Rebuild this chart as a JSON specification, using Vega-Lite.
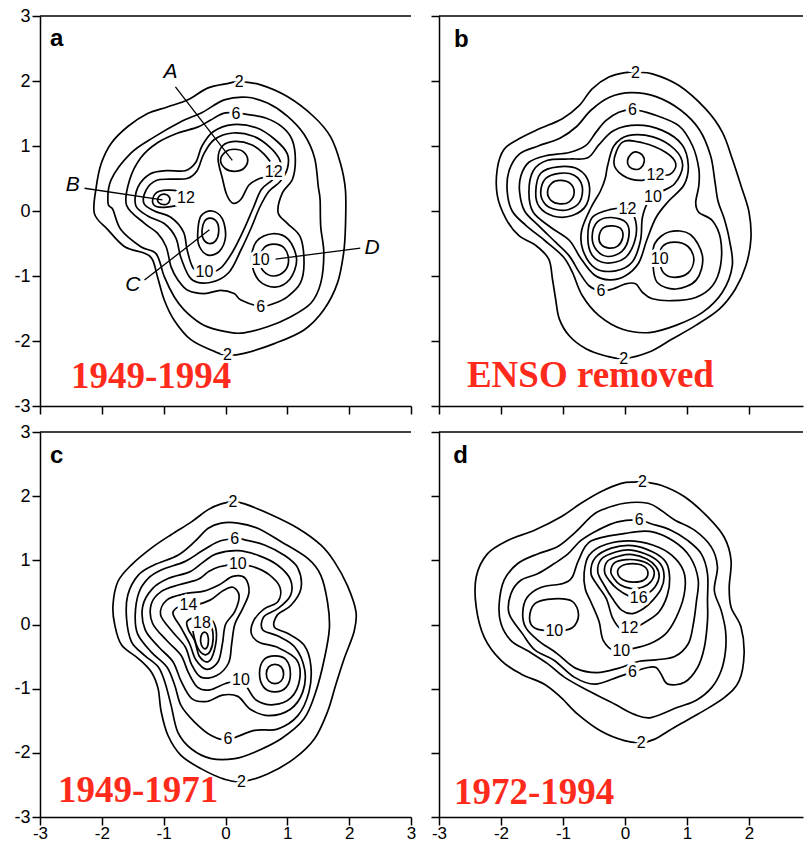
{
"$schema": "https://vega.github.io/schema/vega-lite/v6.json",
"background": "white",
"padding": {"left": 13, "top": 7, "right": 0, "bottom": 0},
"columns": 2,
"bounds": "flush",
"spacing": {"row": 26, "column": 28},
"config": {
  "view": {"stroke": null},
  "axis": {"domainColor": "black", "domainWidth": 1.5, "tickColor": "black", "tickWidth": 1.5, "tickSize": 8, "labelFont": "Liberation Sans", "labelFontSize": 18, "labelColor": "black", "labelPadding": 2, "labelFlush": false, "labelOverlap": false, "grid": false},
  "axisX": {"labelPadding": 0, "labelFontSize": 17},
  "line": {"color": "black", "strokeWidth": 1.7, "interpolate": "cardinal-closed"},
  "text": {"font": "Liberation Sans", "fontSize": 16, "color": "black"}
},
"datasets": {
"a_lines": [
{"contour":"2","x":1.94,"y":0.32},{"contour":"2","x":1.86,"y":0.73},{"contour":"2","x":1.70,"y":1.14},{"contour":"2","x":1.43,"y":1.45},{"contour":"2","x":1.0,"y":1.76},{"contour":"2","x":0.57,"y":1.94},{"contour":"2","x":0.22,"y":1.99},{"contour":"2","x":0.03,"y":1.96},{"contour":"2","x":-0.29,"y":1.89},{"contour":"2","x":-0.61,"y":1.71},{"contour":"2","x":-0.94,"y":1.60},{"contour":"2","x":-1.26,"y":1.50},{"contour":"2","x":-1.58,"y":1.30},{"contour":"2","x":-1.85,"y":1.04},{"contour":"2","x":-2.01,"y":0.73},{"contour":"2","x":-2.09,"y":0.37},{"contour":"2","x":-2.12,"y":-0.04},{"contour":"2","x":-1.90,"y":-0.29},{"contour":"2","x":-1.63,"y":-0.55},{"contour":"2","x":-1.31,"y":-0.65},{"contour":"2","x":-1.18,"y":-0.75},{"contour":"2","x":-1.10,"y":-1.01},{"contour":"2","x":-0.99,"y":-1.37},{"contour":"2","x":-0.83,"y":-1.68},{"contour":"2","x":-0.56,"y":-1.98},{"contour":"2","x":-0.18,"y":-2.16},{"contour":"2","x":0.03,"y":-2.22},{"contour":"2","x":0.30,"y":-2.19},{"contour":"2","x":0.79,"y":-2.04},{"contour":"2","x":1.27,"y":-1.83},{"contour":"2","x":1.59,"y":-1.52},{"contour":"2","x":1.81,"y":-1.11},{"contour":"2","x":1.91,"y":-0.65},{"contour":"2","x":1.94,"y":-0.24},
{"contour":"4","x":-1.82,"y":0.02},{"contour":"4","x":-1.69,"y":-0.29},{"contour":"4","x":-1.37,"y":-0.55},{"contour":"4","x":-1.12,"y":-0.66},{"contour":"4","x":-0.99,"y":-1.01},{"contour":"4","x":-0.83,"y":-1.32},{"contour":"4","x":-0.67,"y":-1.52},{"contour":"4","x":-0.40,"y":-1.73},{"contour":"4","x":-0.13,"y":-1.83},{"contour":"4","x":0.25,"y":-1.88},{"contour":"4","x":0.68,"y":-1.78},{"contour":"4","x":1.05,"y":-1.63},{"contour":"4","x":1.38,"y":-1.42},{"contour":"4","x":1.54,"y":-1.11},{"contour":"4","x":1.59,"y":-0.65},{"contour":"4","x":1.54,"y":-0.24},{"contour":"4","x":1.53,"y":0.17},{"contour":"4","x":1.50,"y":0.38},{"contour":"4","x":1.44,"y":0.82},{"contour":"4","x":1.27,"y":1.18},{"contour":"4","x":1.0,"y":1.46},{"contour":"4","x":0.68,"y":1.66},{"contour":"4","x":0.35,"y":1.75},{"contour":"4","x":-0.02,"y":1.71},{"contour":"4","x":-0.37,"y":1.52},{"contour":"4","x":-0.73,"y":1.37},{"contour":"4","x":-1.15,"y":1.14},{"contour":"4","x":-1.53,"y":0.89},{"contour":"4","x":-1.85,"y":0.48},{"contour":"4","x":-1.90,"y":0.12},
{"contour":"6","x":-1.60,"y":0.09},{"contour":"6","x":-1.31,"y":-0.19},{"contour":"6","x":-1.10,"y":-0.34},{"contour":"6","x":-0.96,"y":-0.55},{"contour":"6","x":-0.88,"y":-0.86},{"contour":"6","x":-0.77,"y":-1.06},{"contour":"6","x":-0.61,"y":-1.22},{"contour":"6","x":-0.34,"y":-1.27},{"contour":"6","x":-0.08,"y":-1.22},{"contour":"6","x":0.14,"y":-1.27},{"contour":"6","x":0.25,"y":-1.37},{"contour":"6","x":0.57,"y":-1.47},{"contour":"6","x":0.79,"y":-1.42},{"contour":"6","x":1.0,"y":-1.32},{"contour":"6","x":1.21,"y":-1.11},{"contour":"6","x":1.27,"y":-0.80},{"contour":"6","x":1.21,"y":-0.40},{"contour":"6","x":1.0,"y":-0.19},{"contour":"6","x":0.85,"y":-0.02},{"contour":"6","x":0.92,"y":0.28},{"contour":"6","x":1.08,"y":0.48},{"contour":"6","x":1.13,"y":0.78},{"contour":"6","x":1.08,"y":1.09},{"contour":"6","x":0.92,"y":1.29},{"contour":"6","x":0.65,"y":1.43},{"contour":"6","x":0.32,"y":1.49},{"contour":"6","x":0.0,"y":1.51},{"contour":"6","x":-0.24,"y":1.40},{"contour":"6","x":-0.45,"y":1.29},{"contour":"6","x":-0.77,"y":1.20},{"contour":"6","x":-1.10,"y":1.05},{"contour":"6","x":-1.37,"y":0.82},{"contour":"6","x":-1.55,"y":0.48},
{"contour":"8","x":-1.45,"y":0.08},{"contour":"8","x":-1.42,"y":0.36},{"contour":"8","x":-1.22,"y":0.57},{"contour":"8","x":-0.95,"y":0.62},{"contour":"8","x":-0.65,"y":0.62},{"contour":"8","x":-0.48,"y":0.75},{"contour":"8","x":-0.38,"y":1.0},{"contour":"8","x":-0.20,"y":1.22},{"contour":"8","x":0.12,"y":1.33},{"contour":"8","x":0.50,"y":1.28},{"contour":"8","x":0.80,"y":1.10},{"contour":"8","x":1.0,"y":0.88},{"contour":"8","x":1.0,"y":0.65},{"contour":"8","x":0.88,"y":0.45},{"contour":"8","x":0.70,"y":0.30},{"contour":"8","x":0.55,"y":0.05},{"contour":"8","x":0.42,"y":-0.25},{"contour":"8","x":0.25,"y":-0.60},{"contour":"8","x":0.05,"y":-0.95},{"contour":"8","x":-0.25,"y":-1.10},{"contour":"8","x":-0.55,"y":-1.05},{"contour":"8","x":-0.72,"y":-0.72},{"contour":"8","x":-0.80,"y":-0.42},{"contour":"8","x":-0.98,"y":-0.20},{"contour":"8","x":-1.25,"y":-0.08},
{"contour":"8D","x":0.42,"y":-0.77},{"contour":"8D","x":0.50,"y":-0.47},{"contour":"8D","x":0.76,"y":-0.35},{"contour":"8D","x":1.02,"y":-0.44},{"contour":"8D","x":1.15,"y":-0.75},{"contour":"8D","x":1.04,"y":-1.05},{"contour":"8D","x":0.80,"y":-1.17},{"contour":"8D","x":0.54,"y":-1.07},
{"contour":"10","x":-1.32,"y":0.12},{"contour":"10","x":-1.28,"y":0.33},{"contour":"10","x":-1.12,"y":0.47},{"contour":"10","x":-0.90,"y":0.49},{"contour":"10","x":-0.62,"y":0.50},{"contour":"10","x":-0.46,"y":0.62},{"contour":"10","x":-0.35,"y":0.88},{"contour":"10","x":-0.18,"y":1.10},{"contour":"10","x":0.12,"y":1.20},{"contour":"10","x":0.45,"y":1.15},{"contour":"10","x":0.72,"y":0.98},{"contour":"10","x":0.88,"y":0.78},{"contour":"10","x":0.88,"y":0.62},{"contour":"10","x":0.76,"y":0.48},{"contour":"10","x":0.58,"y":0.33},{"contour":"10","x":0.45,"y":0.05},{"contour":"10","x":0.30,"y":-0.28},{"contour":"10","x":0.12,"y":-0.62},{"contour":"10","x":-0.08,"y":-0.88},{"contour":"10","x":-0.32,"y":-0.96},{"contour":"10","x":-0.52,"y":-0.88},{"contour":"10","x":-0.62,"y":-0.60},{"contour":"10","x":-0.68,"y":-0.32},{"contour":"10","x":-0.88,"y":-0.10},{"contour":"10","x":-1.15,"y":0.0},
{"contour":"10D","x":0.55,"y":-0.76},{"contour":"10D","x":0.62,"y":-0.57},{"contour":"10D","x":0.78,"y":-0.51},{"contour":"10D","x":0.95,"y":-0.57},{"contour":"10D","x":1.02,"y":-0.76},{"contour":"10D","x":0.95,"y":-0.93},{"contour":"10D","x":0.78,"y":-1.0},{"contour":"10D","x":0.62,"y":-0.93},
{"contour":"12A","x":-0.12,"y":0.80},{"contour":"12A","x":-0.05,"y":1.0},{"contour":"12A","x":0.15,"y":1.07},{"contour":"12A","x":0.42,"y":1.02},{"contour":"12A","x":0.62,"y":0.88},{"contour":"12A","x":0.78,"y":0.66},{"contour":"12A","x":0.74,"y":0.54},{"contour":"12A","x":0.55,"y":0.50},{"contour":"12A","x":0.38,"y":0.40},{"contour":"12A","x":0.25,"y":0.18},{"contour":"12A","x":0.12,"y":0.12},{"contour":"12A","x":0.02,"y":0.25},{"contour":"12A","x":-0.05,"y":0.50},
{"contour":"12B","x":-1.18,"y":0.15},{"contour":"12B","x":-1.12,"y":0.28},{"contour":"12B","x":-0.95,"y":0.32},{"contour":"12B","x":-0.76,"y":0.30},{"contour":"12B","x":-0.67,"y":0.20},{"contour":"12B","x":-0.76,"y":0.10},{"contour":"12B","x":-0.95,"y":0.06},{"contour":"12B","x":-1.12,"y":0.07},
{"contour":"12C","x":-0.45,"y":-0.35},{"contour":"12C","x":-0.40,"y":-0.08},{"contour":"12C","x":-0.22,"y":0.0},{"contour":"12C","x":-0.05,"y":-0.12},{"contour":"12C","x":0.0,"y":-0.40},{"contour":"12C","x":-0.10,"y":-0.62},{"contour":"12C","x":-0.28,"y":-0.68},{"contour":"12C","x":-0.42,"y":-0.55},
{"contour":"14A","x":-0.08,"y":0.78},{"contour":"14A","x":0.0,"y":0.91},{"contour":"14A","x":0.14,"y":0.95},{"contour":"14A","x":0.29,"y":0.91},{"contour":"14A","x":0.36,"y":0.78},{"contour":"14A","x":0.29,"y":0.65},{"contour":"14A","x":0.14,"y":0.61},{"contour":"14A","x":0.0,"y":0.65},
{"contour":"14B","x":-1.10,"y":0.17},{"contour":"14B","x":-1.06,"y":0.24},{"contour":"14B","x":-0.99,"y":0.26},{"contour":"14B","x":-0.92,"y":0.23},{"contour":"14B","x":-0.90,"y":0.17},{"contour":"14B","x":-0.94,"y":0.11},{"contour":"14B","x":-1.01,"y":0.10},{"contour":"14B","x":-1.07,"y":0.12},
{"contour":"14C","x":-0.38,"y":-0.30},{"contour":"14C","x":-0.34,"y":-0.16},{"contour":"14C","x":-0.25,"y":-0.11},{"contour":"14C","x":-0.14,"y":-0.17},{"contour":"14C","x":-0.11,"y":-0.32},{"contour":"14C","x":-0.16,"y":-0.46},{"contour":"14C","x":-0.27,"y":-0.50},{"contour":"14C","x":-0.36,"y":-0.43}
],
"a_tags": [
{"text":"2","x":0.22,"y":1.99},{"text":"2","x":0.03,"y":-2.22},{"text":"6","x":0.17,"y":1.50},{"text":"6","x":0.57,"y":-1.47},{"text":"12","x":0.78,"y":0.60},{"text":"12","x":-0.64,"y":0.20},{"text":"10","x":-0.34,"y":-0.94},{"text":"10","x":0.57,"y":-0.76}
],
"a_callouts": [
{"name":"A","x":-0.89,"y":2.14,"fromX":-0.81,"fromY":1.91,"toX":0.11,"toY":0.78},
{"name":"B","x":-2.47,"y":0.40,"fromX":-2.28,"fromY":0.35,"toX":-1.02,"toY":0.17},
{"name":"C","x":-1.50,"y":-1.14,"fromX":-1.31,"fromY":-1.06,"toX":-0.26,"toY":-0.29},
{"name":"D","x":2.37,"y":-0.57,"fromX":2.18,"fromY":-0.57,"toX":0.81,"toY":-0.74}
],
"b_lines": [
{"contour":"2","x":0.17,"y":2.13},{"contour":"2","x":0.44,"y":2.11},{"contour":"2","x":0.87,"y":1.93},{"contour":"2","x":1.30,"y":1.57},{"contour":"2","x":1.57,"y":1.21},{"contour":"2","x":1.73,"y":0.80},{"contour":"2","x":1.87,"y":0.39},{"contour":"2","x":2.0,"y":-0.02},{"contour":"2","x":2.03,"y":-0.43},{"contour":"2","x":1.95,"y":-0.84},{"contour":"2","x":1.78,"y":-1.20},{"contour":"2","x":1.52,"y":-1.51},{"contour":"2","x":1.14,"y":-1.76},{"contour":"2","x":0.76,"y":-1.97},{"contour":"2","x":0.39,"y":-2.17},{"contour":"2","x":-0.02,"y":-2.27},{"contour":"2","x":-0.31,"y":-2.23},{"contour":"2","x":-0.63,"y":-2.12},{"contour":"2","x":-0.90,"y":-1.92},{"contour":"2","x":-1.06,"y":-1.66},{"contour":"2","x":-1.12,"y":-1.35},{"contour":"2","x":-1.17,"y":-1.05},{"contour":"2","x":-1.23,"y":-0.74},{"contour":"2","x":-1.44,"y":-0.53},{"contour":"2","x":-1.71,"y":-0.38},{"contour":"2","x":-1.92,"y":-0.12},{"contour":"2","x":-2.06,"y":0.24},{"contour":"2","x":-2.06,"y":0.65},{"contour":"2","x":-1.95,"y":0.95},{"contour":"2","x":-1.71,"y":1.11},{"contour":"2","x":-1.39,"y":1.26},{"contour":"2","x":-1.01,"y":1.42},{"contour":"2","x":-0.74,"y":1.62},{"contour":"2","x":-0.53,"y":1.88},{"contour":"2","x":-0.26,"y":2.06},{"contour":"2","x":0.01,"y":2.13},
{"contour":"4","x":0.10,"y":1.82},{"contour":"4","x":0.50,"y":1.76},{"contour":"4","x":0.90,"y":1.55},{"contour":"4","x":1.20,"y":1.25},{"contour":"4","x":1.38,"y":0.85},{"contour":"4","x":1.45,"y":0.45},{"contour":"4","x":1.50,"y":0.15},{"contour":"4","x":1.60,"y":-0.12},{"contour":"4","x":1.68,"y":-0.43},{"contour":"4","x":1.73,"y":-0.84},{"contour":"4","x":1.57,"y":-1.25},{"contour":"4","x":1.25,"y":-1.56},{"contour":"4","x":0.82,"y":-1.76},{"contour":"4","x":0.39,"y":-1.87},{"contour":"4","x":-0.04,"y":-1.82},{"contour":"4","x":-0.42,"y":-1.61},{"contour":"4","x":-0.69,"y":-1.30},{"contour":"4","x":-0.85,"y":-0.94},{"contour":"4","x":-1.0,"y":-0.70},{"contour":"4","x":-1.30,"y":-0.45},{"contour":"4","x":-1.60,"y":-0.22},{"contour":"4","x":-1.82,"y":0.0},{"contour":"4","x":-1.90,"y":0.30},{"contour":"4","x":-1.87,"y":0.62},{"contour":"4","x":-1.70,"y":0.88},{"contour":"4","x":-1.40,"y":1.0},{"contour":"4","x":-1.05,"y":1.12},{"contour":"4","x":-0.78,"y":1.30},{"contour":"4","x":-0.55,"y":1.55},{"contour":"4","x":-0.25,"y":1.75},
{"contour":"6","x":0.12,"y":1.56},{"contour":"6","x":0.44,"y":1.49},{"contour":"6","x":0.87,"y":1.31},{"contour":"6","x":1.09,"y":1.0},{"contour":"6","x":1.19,"y":0.65},{"contour":"6","x":1.19,"y":0.39},{"contour":"6","x":1.14,"y":0.13},{"contour":"6","x":1.19,"y":-0.02},{"contour":"6","x":1.41,"y":-0.15},{"contour":"6","x":1.54,"y":-0.43},{"contour":"6","x":1.54,"y":-0.84},{"contour":"6","x":1.41,"y":-1.15},{"contour":"6","x":1.14,"y":-1.33},{"contour":"6","x":0.76,"y":-1.38},{"contour":"6","x":0.44,"y":-1.35},{"contour":"6","x":0.28,"y":-1.25},{"contour":"6","x":0.17,"y":-1.12},{"contour":"6","x":0.01,"y":-1.12},{"contour":"6","x":-0.20,"y":-1.20},{"contour":"6","x":-0.39,"y":-1.23},{"contour":"6","x":-0.58,"y":-1.15},{"contour":"6","x":-0.74,"y":-0.94},{"contour":"6","x":-0.90,"y":-0.69},{"contour":"6","x":-1.12,"y":-0.48},{"contour":"6","x":-1.39,"y":-0.23},{"contour":"6","x":-1.62,"y":0.0},{"contour":"6","x":-1.70,"y":0.29},{"contour":"6","x":-1.68,"y":0.54},{"contour":"6","x":-1.55,"y":0.75},{"contour":"6","x":-1.28,"y":0.85},{"contour":"6","x":-0.90,"y":0.90},{"contour":"6","x":-0.63,"y":1.01},{"contour":"6","x":-0.47,"y":1.21},{"contour":"6","x":-0.31,"y":1.39},{"contour":"6","x":-0.10,"y":1.52},
{"contour":"8","x":-1.55,"y":0.29},{"contour":"8","x":-1.48,"y":0.62},{"contour":"8","x":-1.25,"y":0.78},{"contour":"8","x":-0.90,"y":0.80},{"contour":"8","x":-0.60,"y":0.82},{"contour":"8","x":-0.42,"y":1.02},{"contour":"8","x":-0.18,"y":1.24},{"contour":"8","x":0.20,"y":1.32},{"contour":"8","x":0.60,"y":1.24},{"contour":"8","x":0.92,"y":1.02},{"contour":"8","x":1.02,"y":0.70},{"contour":"8","x":0.95,"y":0.40},{"contour":"8","x":0.70,"y":0.15},{"contour":"8","x":0.50,"y":-0.10},{"contour":"8","x":0.35,"y":-0.45},{"contour":"8","x":0.22,"y":-0.80},{"contour":"8","x":0.0,"y":-1.0},{"contour":"8","x":-0.25,"y":-1.06},{"contour":"8","x":-0.50,"y":-0.98},{"contour":"8","x":-0.72,"y":-0.72},{"contour":"8","x":-0.90,"y":-0.45},{"contour":"8","x":-1.20,"y":-0.25},{"contour":"8","x":-1.48,"y":-0.02},
{"contour":"8D","x":0.48,"y":-0.50},{"contour":"8D","x":0.72,"y":-0.32},{"contour":"8D","x":1.05,"y":-0.36},{"contour":"8D","x":1.25,"y":-0.70},{"contour":"8D","x":1.15,"y":-1.06},{"contour":"8D","x":0.82,"y":-1.20},{"contour":"8D","x":0.52,"y":-1.10},{"contour":"8D","x":0.45,"y":-0.80},
{"contour":"10L","x":-1.44,"y":0.29},{"contour":"10L","x":-1.36,"y":0.58},{"contour":"10L","x":-1.08,"y":0.68},{"contour":"10L","x":-0.75,"y":0.64},{"contour":"10L","x":-0.58,"y":0.42},{"contour":"10L","x":-0.62,"y":0.10},{"contour":"10L","x":-0.85,"y":-0.07},{"contour":"10L","x":-1.15,"y":-0.08},{"contour":"10L","x":-1.38,"y":0.06},
{"contour":"10AC","x":-0.28,"y":0.70},{"contour":"10AC","x":-0.18,"y":1.0},{"contour":"10AC","x":0.05,"y":1.16},{"contour":"10AC","x":0.45,"y":1.14},{"contour":"10AC","x":0.80,"y":0.95},{"contour":"10AC","x":0.93,"y":0.70},{"contour":"10AC","x":0.80,"y":0.42},{"contour":"10AC","x":0.55,"y":0.28},{"contour":"10AC","x":0.38,"y":0.15},{"contour":"10AC","x":0.28,"y":-0.10},{"contour":"10AC","x":0.25,"y":-0.45},{"contour":"10AC","x":0.12,"y":-0.78},{"contour":"10AC","x":-0.15,"y":-0.92},{"contour":"10AC","x":-0.48,"y":-0.88},{"contour":"10AC","x":-0.68,"y":-0.60},{"contour":"10AC","x":-0.70,"y":-0.30},{"contour":"10AC","x":-0.55,"y":0.05},{"contour":"10AC","x":-0.40,"y":0.30},{"contour":"10AC","x":-0.32,"y":0.50},
{"contour":"10D","x":0.60,"y":-0.55},{"contour":"10D","x":0.80,"y":-0.48},{"contour":"10D","x":1.02,"y":-0.55},{"contour":"10D","x":1.11,"y":-0.75},{"contour":"10D","x":1.02,"y":-0.95},{"contour":"10D","x":0.80,"y":-1.02},{"contour":"10D","x":0.62,"y":-0.95},{"contour":"10D","x":0.56,"y":-0.75},
{"contour":"12L","x":-1.36,"y":0.29},{"contour":"12L","x":-1.28,"y":0.50},{"contour":"12L","x":-1.06,"y":0.58},{"contour":"12L","x":-0.82,"y":0.55},{"contour":"12L","x":-0.69,"y":0.38},{"contour":"12L","x":-0.73,"y":0.14},{"contour":"12L","x":-0.92,"y":0.02},{"contour":"12L","x":-1.15,"y":0.03},{"contour":"12L","x":-1.30,"y":0.12},
{"contour":"14L","x":-1.25,"y":0.29},{"contour":"14L","x":-1.18,"y":0.43},{"contour":"14L","x":-1.04,"y":0.47},{"contour":"14L","x":-0.88,"y":0.42},{"contour":"14L","x":-0.82,"y":0.28},{"contour":"14L","x":-0.90,"y":0.14},{"contour":"14L","x":-1.05,"y":0.11},{"contour":"14L","x":-1.19,"y":0.16},
{"contour":"12A","x":-0.18,"y":0.75},{"contour":"12A","x":-0.04,"y":1.06},{"contour":"12A","x":0.28,"y":1.05},{"contour":"12A","x":0.66,"y":0.90},{"contour":"12A","x":0.82,"y":0.72},{"contour":"12A","x":0.72,"y":0.56},{"contour":"12A","x":0.49,"y":0.55},{"contour":"12A","x":0.25,"y":0.47},{"contour":"12A","x":-0.04,"y":0.55},
{"contour":"14A","x":0.04,"y":0.78},{"contour":"14A","x":0.10,"y":0.88},{"contour":"14A","x":0.18,"y":0.91},{"contour":"14A","x":0.28,"y":0.86},{"contour":"14A","x":0.31,"y":0.76},{"contour":"14A","x":0.25,"y":0.66},{"contour":"14A","x":0.16,"y":0.64},{"contour":"14A","x":0.07,"y":0.68},
{"contour":"12C","x":-0.60,"y":-0.40},{"contour":"12C","x":-0.53,"y":-0.10},{"contour":"12C","x":-0.25,"y":0.02},{"contour":"12C","x":0.04,"y":0.03},{"contour":"12C","x":0.17,"y":-0.15},{"contour":"12C","x":0.16,"y":-0.45},{"contour":"12C","x":0.0,"y":-0.72},{"contour":"12C","x":-0.30,"y":-0.80},{"contour":"12C","x":-0.53,"y":-0.68},
{"contour":"14C","x":-0.53,"y":-0.40},{"contour":"14C","x":-0.45,"y":-0.17},{"contour":"14C","x":-0.22,"y":-0.10},{"contour":"14C","x":0.02,"y":-0.18},{"contour":"14C","x":0.06,"y":-0.40},{"contour":"14C","x":-0.05,"y":-0.62},{"contour":"14C","x":-0.28,"y":-0.70},{"contour":"14C","x":-0.46,"y":-0.60},
{"contour":"16C","x":-0.42,"y":-0.40},{"contour":"16C","x":-0.35,"y":-0.26},{"contour":"16C","x":-0.20,"y":-0.23},{"contour":"16C","x":-0.06,"y":-0.28},{"contour":"16C","x":-0.04,"y":-0.42},{"contour":"16C","x":-0.12,"y":-0.54},{"contour":"16C","x":-0.26,"y":-0.57},{"contour":"16C","x":-0.38,"y":-0.52}
],
"b_tags": [
{"text":"2","x":0.17,"y":2.13},{"text":"2","x":-0.02,"y":-2.27},{"text":"6","x":0.12,"y":1.56},{"text":"6","x":-0.39,"y":-1.23},{"text":"12","x":0.49,"y":0.55},{"text":"12","x":0.04,"y":0.03},{"text":"10","x":0.45,"y":0.22},{"text":"10","x":0.56,"y":-0.74}
],
"c_lines": [
{"contour":"2","x":0.12,"y":1.91},{"contour":"2","x":0.31,"y":1.88},{"contour":"2","x":0.74,"y":1.71},{"contour":"2","x":1.17,"y":1.50},{"contour":"2","x":1.54,"y":1.24},{"contour":"2","x":1.76,"y":0.98},{"contour":"2","x":1.97,"y":0.61},{"contour":"2","x":2.11,"y":0.20},{"contour":"2","x":2.08,"y":-0.11},{"contour":"2","x":1.92,"y":-0.53},{"contour":"2","x":1.78,"y":-0.95},{"contour":"2","x":1.65,"y":-1.36},{"contour":"2","x":1.44,"y":-1.78},{"contour":"2","x":1.11,"y":-2.09},{"contour":"2","x":0.68,"y":-2.33},{"contour":"2","x":0.26,"y":-2.45},{"contour":"2","x":-0.02,"y":-2.41},{"contour":"2","x":-0.39,"y":-2.25},{"contour":"2","x":-0.72,"y":-2.04},{"contour":"2","x":-0.93,"y":-1.73},{"contour":"2","x":-1.04,"y":-1.36},{"contour":"2","x":-1.09,"y":-1.0},{"contour":"2","x":-1.20,"y":-0.74},{"contour":"2","x":-1.41,"y":-0.53},{"contour":"2","x":-1.68,"y":-0.32},{"contour":"2","x":-1.79,"y":-0.01},{"contour":"2","x":-1.82,"y":0.30},{"contour":"2","x":-1.74,"y":0.67},{"contour":"2","x":-1.52,"y":0.93},{"contour":"2","x":-1.20,"y":1.19},{"contour":"2","x":-0.88,"y":1.40},{"contour":"2","x":-0.55,"y":1.60},{"contour":"2","x":-0.28,"y":1.79},{"contour":"2","x":-0.07,"y":1.88},
{"contour":"4","x":-0.07,"y":1.58},{"contour":"4","x":0.20,"y":1.58},{"contour":"4","x":0.52,"y":1.50},{"contour":"4","x":0.90,"y":1.29},{"contour":"4","x":1.33,"y":1.03},{"contour":"4","x":1.54,"y":0.77},{"contour":"4","x":1.65,"y":0.35},{"contour":"4","x":1.68,"y":-0.06},{"contour":"4","x":1.60,"y":-0.53},{"contour":"4","x":1.46,"y":-1.05},{"contour":"4","x":1.27,"y":-1.47},{"contour":"4","x":0.90,"y":-1.78},{"contour":"4","x":0.47,"y":-1.99},{"contour":"4","x":0.15,"y":-2.09},{"contour":"4","x":-0.23,"y":-2.09},{"contour":"4","x":-0.55,"y":-1.94},{"contour":"4","x":-0.77,"y":-1.68},{"contour":"4","x":-0.88,"y":-1.26},{"contour":"4","x":-0.98,"y":-0.90},{"contour":"4","x":-1.09,"y":-0.66},{"contour":"4","x":-1.31,"y":-0.48},{"contour":"4","x":-1.52,"y":-0.27},{"contour":"4","x":-1.60,"y":0.09},{"contour":"4","x":-1.58,"y":0.46},{"contour":"4","x":-1.41,"y":0.77},{"contour":"4","x":-1.15,"y":0.93},{"contour":"4","x":-0.77,"y":1.08},{"contour":"4","x":-0.50,"y":1.29},{"contour":"4","x":-0.28,"y":1.50},
{"contour":"6","x":0.15,"y":1.34},{"contour":"6","x":0.31,"y":1.32},{"contour":"6","x":0.63,"y":1.24},{"contour":"6","x":0.95,"y":1.08},{"contour":"6","x":1.17,"y":0.88},{"contour":"6","x":1.22,"y":0.56},{"contour":"6","x":1.06,"y":0.30},{"contour":"6","x":0.84,"y":0.15},{"contour":"6","x":0.79,"y":-0.04},{"contour":"6","x":1.01,"y":-0.14},{"contour":"6","x":1.27,"y":-0.32},{"contour":"6","x":1.38,"y":-0.64},{"contour":"6","x":1.35,"y":-1.05},{"contour":"6","x":1.17,"y":-1.42},{"contour":"6","x":0.84,"y":-1.63},{"contour":"6","x":0.47,"y":-1.65},{"contour":"6","x":0.04,"y":-1.79},{"contour":"6","x":-0.23,"y":-1.73},{"contour":"6","x":-0.50,"y":-1.52},{"contour":"6","x":-0.72,"y":-1.26},{"contour":"6","x":-0.82,"y":-0.95},{"contour":"6","x":-0.95,"y":-0.66},{"contour":"6","x":-1.20,"y":-0.43},{"contour":"6","x":-1.42,"y":-0.15},{"contour":"6","x":-1.46,"y":0.15},{"contour":"6","x":-1.40,"y":0.50},{"contour":"6","x":-1.25,"y":0.72},{"contour":"6","x":-1.04,"y":0.85},{"contour":"6","x":-0.66,"y":0.98},{"contour":"6","x":-0.39,"y":1.14},{"contour":"6","x":-0.12,"y":1.29},
{"contour":"8","x":-0.15,"y":1.10},{"contour":"8","x":0.20,"y":1.15},{"contour":"8","x":0.55,"y":1.07},{"contour":"8","x":0.85,"y":0.92},{"contour":"8","x":1.05,"y":0.70},{"contour":"8","x":1.05,"y":0.45},{"contour":"8","x":0.85,"y":0.25},{"contour":"8","x":0.62,"y":0.12},{"contour":"8","x":0.60,"y":-0.08},{"contour":"8","x":0.85,"y":-0.18},{"contour":"8","x":1.12,"y":-0.35},{"contour":"8","x":1.28,"y":-0.70},{"contour":"8","x":1.25,"y":-1.05},{"contour":"8","x":1.05,"y":-1.32},{"contour":"8","x":0.70,"y":-1.42},{"contour":"8","x":0.40,"y":-1.32},{"contour":"8","x":0.20,"y":-1.12},{"contour":"8","x":-0.05,"y":-1.10},{"contour":"8","x":-0.30,"y":-1.20},{"contour":"8","x":-0.55,"y":-1.15},{"contour":"8","x":-0.72,"y":-0.88},{"contour":"8","x":-0.85,"y":-0.58},{"contour":"8","x":-1.08,"y":-0.35},{"contour":"8","x":-1.30,"y":-0.08},{"contour":"8","x":-1.34,"y":0.28},{"contour":"8","x":-1.18,"y":0.56},{"contour":"8","x":-0.92,"y":0.72},{"contour":"8","x":-0.58,"y":0.82},{"contour":"8","x":-0.35,"y":0.98},
{"contour":"10","x":-0.10,"y":0.90},{"contour":"10","x":0.20,"y":0.94},{"contour":"10","x":0.45,"y":0.90},{"contour":"10","x":0.70,"y":0.78},{"contour":"10","x":0.88,"y":0.58},{"contour":"10","x":0.85,"y":0.36},{"contour":"10","x":0.62,"y":0.24},{"contour":"10","x":0.45,"y":0.05},{"contour":"10","x":0.42,"y":-0.15},{"contour":"10","x":0.55,"y":-0.28},{"contour":"10","x":0.85,"y":-0.36},{"contour":"10","x":1.15,"y":-0.55},{"contour":"10","x":1.20,"y":-0.85},{"contour":"10","x":1.06,"y":-1.14},{"contour":"10","x":0.78,"y":-1.25},{"contour":"10","x":0.50,"y":-1.18},{"contour":"10","x":0.35,"y":-0.98},{"contour":"10","x":0.25,"y":-0.87},{"contour":"10","x":0.0,"y":-0.92},{"contour":"10","x":-0.25,"y":-1.02},{"contour":"10","x":-0.45,"y":-0.98},{"contour":"10","x":-0.60,"y":-0.75},{"contour":"10","x":-0.72,"y":-0.48},{"contour":"10","x":-0.95,"y":-0.25},{"contour":"10","x":-1.18,"y":0.02},{"contour":"10","x":-1.20,"y":0.32},{"contour":"10","x":-1.03,"y":0.52},{"contour":"10","x":-0.75,"y":0.62},{"contour":"10","x":-0.45,"y":0.70},{"contour":"10","x":-0.28,"y":0.82},
{"contour":"12","x":-1.05,"y":0.15},{"contour":"12","x":-0.95,"y":0.38},{"contour":"12","x":-0.65,"y":0.48},{"contour":"12","x":-0.35,"y":0.52},{"contour":"12","x":-0.10,"y":0.62},{"contour":"12","x":0.12,"y":0.75},{"contour":"12","x":0.32,"y":0.72},{"contour":"12","x":0.38,"y":0.50},{"contour":"12","x":0.28,"y":0.25},{"contour":"12","x":0.15,"y":0.0},{"contour":"12","x":0.10,"y":-0.30},{"contour":"12","x":0.05,"y":-0.60},{"contour":"12","x":-0.15,"y":-0.80},{"contour":"12","x":-0.40,"y":-0.82},{"contour":"12","x":-0.55,"y":-0.62},{"contour":"12","x":-0.65,"y":-0.35},{"contour":"12","x":-0.85,"y":-0.12},
{"contour":"12R","x":0.55,"y":-0.76},{"contour":"12R","x":0.62,"y":-0.55},{"contour":"12R","x":0.80,"y":-0.49},{"contour":"12R","x":0.98,"y":-0.55},{"contour":"12R","x":1.05,"y":-0.77},{"contour":"12R","x":0.98,"y":-0.98},{"contour":"12R","x":0.80,"y":-1.05},{"contour":"12R","x":0.62,"y":-0.98},
{"contour":"14","x":-0.85,"y":0.18},{"contour":"14","x":-0.70,"y":0.30},{"contour":"14","x":-0.50,"y":0.30},{"contour":"14","x":-0.25,"y":0.38},{"contour":"14","x":-0.05,"y":0.52},{"contour":"14","x":0.12,"y":0.58},{"contour":"14","x":0.22,"y":0.45},{"contour":"14","x":0.15,"y":0.20},{"contour":"14","x":0.0,"y":0.0},{"contour":"14","x":-0.05,"y":-0.30},{"contour":"14","x":-0.12,"y":-0.58},{"contour":"14","x":-0.30,"y":-0.70},{"contour":"14","x":-0.48,"y":-0.55},{"contour":"14","x":-0.58,"y":-0.30},{"contour":"14","x":-0.72,"y":-0.05},
{"contour":"14R","x":0.66,"y":-0.77},{"contour":"14R","x":0.70,"y":-0.66},{"contour":"14R","x":0.80,"y":-0.62},{"contour":"14R","x":0.90,"y":-0.66},{"contour":"14R","x":0.94,"y":-0.77},{"contour":"14R","x":0.90,"y":-0.88},{"contour":"14R","x":0.80,"y":-0.92},{"contour":"14R","x":0.70,"y":-0.88},
{"contour":"16","x":-0.62,"y":0.05},{"contour":"16","x":-0.45,"y":0.12},{"contour":"16","x":-0.25,"y":0.10},{"contour":"16","x":-0.15,"y":-0.10},{"contour":"16","x":-0.18,"y":-0.40},{"contour":"16","x":-0.28,"y":-0.58},{"contour":"16","x":-0.42,"y":-0.50},{"contour":"16","x":-0.50,"y":-0.25},{"contour":"16","x":-0.60,"y":-0.08},
{"contour":"18","x":-0.52,"y":-0.05},{"contour":"18","x":-0.38,"y":0.03},{"contour":"18","x":-0.24,"y":-0.02},{"contour":"18","x":-0.20,"y":-0.22},{"contour":"18","x":-0.25,"y":-0.42},{"contour":"18","x":-0.34,"y":-0.47},{"contour":"18","x":-0.44,"y":-0.38},{"contour":"18","x":-0.50,"y":-0.22},
{"contour":"20","x":-0.40,"y":-0.20},{"contour":"20","x":-0.35,"y":-0.12},{"contour":"20","x":-0.29,"y":-0.16},{"contour":"20","x":-0.28,"y":-0.30},{"contour":"20","x":-0.33,"y":-0.38},{"contour":"20","x":-0.39,"y":-0.32}
],
"c_tags": [
{"text":"2","x":0.12,"y":1.91},{"text":"2","x":0.26,"y":-2.45},{"text":"6","x":0.15,"y":1.34},{"text":"6","x":0.04,"y":-1.79},{"text":"10","x":0.20,"y":0.94},{"text":"10","x":0.25,"y":-0.87},{"text":"14","x":-0.60,"y":0.30},{"text":"18","x":-0.38,"y":0.03}
],
"d_lines": [
{"contour":"2","x":0.28,"y":2.22},{"contour":"2","x":0.58,"y":2.17},{"contour":"2","x":0.96,"y":1.99},{"contour":"2","x":1.33,"y":1.68},{"contour":"2","x":1.60,"y":1.36},{"contour":"2","x":1.71,"y":1.0},{"contour":"2","x":1.68,"y":0.58},{"contour":"2","x":1.71,"y":0.27},{"contour":"2","x":1.87,"y":-0.04},{"contour":"2","x":1.92,"y":-0.46},{"contour":"2","x":1.84,"y":-0.88},{"contour":"2","x":1.60,"y":-1.14},{"contour":"2","x":1.17,"y":-1.40},{"contour":"2","x":0.80,"y":-1.60},{"contour":"2","x":0.47,"y":-1.79},{"contour":"2","x":0.26,"y":-1.84},{"contour":"2","x":-0.01,"y":-1.81},{"contour":"2","x":-0.39,"y":-1.66},{"contour":"2","x":-0.76,"y":-1.40},{"contour":"2","x":-1.03,"y":-1.14},{"contour":"2","x":-1.30,"y":-0.93},{"contour":"2","x":-1.68,"y":-0.77},{"contour":"2","x":-2.0,"y":-0.56},{"contour":"2","x":-2.27,"y":-0.20},{"contour":"2","x":-2.40,"y":0.27},{"contour":"2","x":-2.40,"y":0.74},{"contour":"2","x":-2.22,"y":1.10},{"contour":"2","x":-1.89,"y":1.31},{"contour":"2","x":-1.46,"y":1.47},{"contour":"2","x":-1.03,"y":1.68},{"contour":"2","x":-0.71,"y":1.89},{"contour":"2","x":-0.39,"y":2.07},{"contour":"2","x":-0.06,"y":2.20},{"contour":"2","x":0.15,"y":2.22},
{"contour":"4","x":-0.01,"y":1.89},{"contour":"4","x":0.37,"y":1.89},{"contour":"4","x":0.58,"y":1.78},{"contour":"4","x":0.80,"y":1.63},{"contour":"4","x":1.12,"y":1.47},{"contour":"4","x":1.39,"y":1.21},{"contour":"4","x":1.49,"y":0.90},{"contour":"4","x":1.44,"y":0.53},{"contour":"4","x":1.55,"y":0.22},{"contour":"4","x":1.62,"y":-0.09},{"contour":"4","x":1.62,"y":-0.41},{"contour":"4","x":1.55,"y":-0.72},{"contour":"4","x":1.40,"y":-0.98},{"contour":"4","x":1.15,"y":-1.18},{"contour":"4","x":0.85,"y":-1.29},{"contour":"4","x":0.42,"y":-1.45},{"contour":"4","x":0.15,"y":-1.40},{"contour":"4","x":-0.17,"y":-1.24},{"contour":"4","x":-0.60,"y":-1.03},{"contour":"4","x":-0.98,"y":-0.82},{"contour":"4","x":-1.25,"y":-0.61},{"contour":"4","x":-1.57,"y":-0.41},{"contour":"4","x":-1.84,"y":-0.25},{"contour":"4","x":-2.0,"y":0.01},{"contour":"4","x":-2.03,"y":0.32},{"contour":"4","x":-1.95,"y":0.69},{"contour":"4","x":-1.73,"y":0.95},{"contour":"4","x":-1.41,"y":1.10},{"contour":"4","x":-1.09,"y":1.21},{"contour":"4","x":-0.82,"y":1.42},{"contour":"4","x":-0.55,"y":1.68},{"contour":"4","x":-0.39,"y":1.78},
{"contour":"6","x":0.23,"y":1.63},{"contour":"6","x":0.42,"y":1.57},{"contour":"6","x":0.74,"y":1.47},{"contour":"6","x":1.01,"y":1.31},{"contour":"6","x":1.23,"y":1.10},{"contour":"6","x":1.33,"y":0.79},{"contour":"6","x":1.33,"y":0.38},{"contour":"6","x":1.33,"y":0.06},{"contour":"6","x":1.28,"y":-0.35},{"contour":"6","x":1.17,"y":-0.67},{"contour":"6","x":0.96,"y":-0.90},{"contour":"6","x":0.69,"y":-0.93},{"contour":"6","x":0.58,"y":-0.77},{"contour":"6","x":0.50,"y":-0.67},{"contour":"6","x":0.37,"y":-0.67},{"contour":"6","x":0.12,"y":-0.74},{"contour":"6","x":-0.12,"y":-0.82},{"contour":"6","x":-0.49,"y":-0.93},{"contour":"6","x":-0.82,"y":-0.82},{"contour":"6","x":-1.14,"y":-0.56},{"contour":"6","x":-1.45,"y":-0.40},{"contour":"6","x":-1.65,"y":-0.15},{"contour":"6","x":-1.87,"y":0.17},{"contour":"6","x":-1.84,"y":0.48},{"contour":"6","x":-1.68,"y":0.69},{"contour":"6","x":-1.41,"y":0.79},{"contour":"6","x":-1.14,"y":0.95},{"contour":"6","x":-0.92,"y":1.10},{"contour":"6","x":-0.71,"y":1.31},{"contour":"6","x":-0.44,"y":1.47},{"contour":"6","x":-0.12,"y":1.60},
{"contour":"8","x":-1.58,"y":0.42},{"contour":"8","x":-1.35,"y":0.58},{"contour":"8","x":-1.0,"y":0.64},{"contour":"8","x":-0.85,"y":0.74},{"contour":"8","x":-0.75,"y":1.0},{"contour":"8","x":-0.55,"y":1.30},{"contour":"8","x":0.0,"y":1.42},{"contour":"8","x":0.40,"y":1.45},{"contour":"8","x":0.78,"y":1.30},{"contour":"8","x":1.05,"y":1.05},{"contour":"8","x":1.18,"y":0.70},{"contour":"8","x":1.15,"y":0.35},{"contour":"8","x":1.10,"y":0.0},{"contour":"8","x":1.02,"y":-0.30},{"contour":"8","x":0.80,"y":-0.50},{"contour":"8","x":0.50,"y":-0.55},{"contour":"8","x":0.20,"y":-0.58},{"contour":"8","x":-0.10,"y":-0.68},{"contour":"8","x":-0.45,"y":-0.75},{"contour":"8","x":-0.80,"y":-0.68},{"contour":"8","x":-1.10,"y":-0.45},{"contour":"8","x":-1.40,"y":-0.25},{"contour":"8","x":-1.60,"y":-0.05},{"contour":"8","x":-1.65,"y":0.18},
{"contour":"10L","x":-1.54,"y":0.10},{"contour":"10L","x":-1.45,"y":0.33},{"contour":"10L","x":-1.15,"y":0.40},{"contour":"10L","x":-0.85,"y":0.36},{"contour":"10L","x":-0.75,"y":0.15},{"contour":"10L","x":-0.85,"y":-0.05},{"contour":"10L","x":-1.14,"y":-0.10},{"contour":"10L","x":-1.45,"y":-0.06},
{"contour":"10","x":-0.66,"y":0.80},{"contour":"10","x":-0.58,"y":1.08},{"contour":"10","x":-0.30,"y":1.25},{"contour":"10","x":0.15,"y":1.30},{"contour":"10","x":0.55,"y":1.20},{"contour":"10","x":0.82,"y":1.02},{"contour":"10","x":0.96,"y":0.78},{"contour":"10","x":0.95,"y":0.45},{"contour":"10","x":0.82,"y":0.10},{"contour":"10","x":0.65,"y":-0.15},{"contour":"10","x":0.40,"y":-0.30},{"contour":"10","x":0.10,"y":-0.38},{"contour":"10","x":-0.15,"y":-0.42},{"contour":"10","x":-0.35,"y":-0.25},{"contour":"10","x":-0.42,"y":0.05},{"contour":"10","x":-0.55,"y":0.35},{"contour":"10","x":-0.64,"y":0.55},
{"contour":"12","x":-0.55,"y":0.80},{"contour":"12","x":-0.48,"y":1.04},{"contour":"12","x":-0.22,"y":1.19},{"contour":"12","x":0.12,"y":1.23},{"contour":"12","x":0.45,"y":1.13},{"contour":"12","x":0.66,"y":0.97},{"contour":"12","x":0.72,"y":0.72},{"contour":"12","x":0.68,"y":0.45},{"contour":"12","x":0.55,"y":0.20},{"contour":"12","x":0.35,"y":0.05},{"contour":"12","x":0.15,"y":-0.05},{"contour":"12","x":-0.05,"y":-0.08},{"contour":"12","x":-0.20,"y":0.10},{"contour":"12","x":-0.30,"y":0.40},{"contour":"12","x":-0.45,"y":0.62},
{"contour":"14","x":-0.44,"y":0.82},{"contour":"14","x":-0.38,"y":1.02},{"contour":"14","x":-0.15,"y":1.13},{"contour":"14","x":0.10,"y":1.16},{"contour":"14","x":0.40,"y":1.07},{"contour":"14","x":0.58,"y":0.93},{"contour":"14","x":0.63,"y":0.74},{"contour":"14","x":0.58,"y":0.55},{"contour":"14","x":0.45,"y":0.38},{"contour":"14","x":0.30,"y":0.25},{"contour":"14","x":0.12,"y":0.17},{"contour":"14","x":-0.05,"y":0.22},{"contour":"14","x":-0.20,"y":0.40},{"contour":"14","x":-0.34,"y":0.62},
{"contour":"16","x":-0.33,"y":0.82},{"contour":"16","x":-0.28,"y":0.99},{"contour":"16","x":-0.08,"y":1.07},{"contour":"16","x":0.12,"y":1.09},{"contour":"16","x":0.35,"y":1.02},{"contour":"16","x":0.50,"y":0.90},{"contour":"16","x":0.55,"y":0.75},{"contour":"16","x":0.48,"y":0.58},{"contour":"16","x":0.35,"y":0.47},{"contour":"16","x":0.22,"y":0.42},{"contour":"16","x":0.05,"y":0.45},{"contour":"16","x":-0.12,"y":0.55},{"contour":"16","x":-0.25,"y":0.68},
{"contour":"18","x":-0.23,"y":0.82},{"contour":"18","x":-0.17,"y":0.96},{"contour":"18","x":0.02,"y":1.01},{"contour":"18","x":0.22,"y":1.0},{"contour":"18","x":0.38,"y":0.94},{"contour":"18","x":0.47,"y":0.82},{"contour":"18","x":0.42,"y":0.67},{"contour":"18","x":0.28,"y":0.58},{"contour":"18","x":0.10,"y":0.56},{"contour":"18","x":-0.08,"y":0.62},{"contour":"18","x":-0.18,"y":0.72},
{"contour":"20","x":-0.12,"y":0.81},{"contour":"20","x":-0.06,"y":0.91},{"contour":"20","x":0.12,"y":0.95},{"contour":"20","x":0.30,"y":0.91},{"contour":"20","x":0.37,"y":0.80},{"contour":"20","x":0.30,"y":0.69},{"contour":"20","x":0.13,"y":0.66},{"contour":"20","x":-0.04,"y":0.70}
],
"d_tags": [
{"text":"2","x":0.28,"y":2.22},{"text":"2","x":0.26,"y":-1.84},{"text":"6","x":0.23,"y":1.63},{"text":"6","x":0.12,"y":-0.74},{"text":"10","x":-1.14,"y":-0.10},{"text":"10","x":-0.06,"y":-0.41},{"text":"12","x":0.07,"y":-0.06},{"text":"16","x":0.22,"y":0.42}
]
},
"concat": [
{
"width": 371, "height": 390,
"layer": [
 {"data": {"name": "a_lines"}, "mark": "line",
  "encoding": {
   "x": {"field": "x", "type": "quantitative", "scale": {"domain": [-3, 3], "nice": false, "zero": false}, "axis": {"values": [-3, -2, -1, 0, 1, 2, 3], "labels": false, "title": null}},
   "y": {"field": "y", "type": "quantitative", "scale": {"domain": [-3, 3], "nice": false, "zero": false}, "axis": {"values": [-3, -2, -1, 0, 1, 2, 3], "title": null, "labelExpr": "datum.value < 0 ? '-' + (-datum.value) : '' + datum.value"}},
   "detail": {"field": "contour", "type": "nominal"},
   "order": {"value": null}}},
 {"data": {"values": [{}]}, "mark": {"type": "rule", "color": "black", "strokeWidth": 1.5}, "encoding": {"y": {"datum": 3, "type": "quantitative"}}},
 {"data": {"name": "a_tags"}, "mark": {"type": "text", "fill": "white", "stroke": "white", "strokeWidth": 6}, "encoding": {"x": {"field": "x", "type": "quantitative"}, "y": {"field": "y", "type": "quantitative"}, "text": {"field": "text"}}},
 {"data": {"name": "a_tags"}, "mark": {"type": "text"}, "encoding": {"x": {"field": "x", "type": "quantitative"}, "y": {"field": "y", "type": "quantitative"}, "text": {"field": "text"}}},
 {"data": {"name": "a_callouts"}, "mark": {"type": "rule", "color": "black", "strokeWidth": 1.3}, "encoding": {"x": {"field": "fromX", "type": "quantitative"}, "y": {"field": "fromY", "type": "quantitative"}, "x2": {"field": "toX"}, "y2": {"field": "toY"}}},
 {"data": {"name": "a_callouts"}, "mark": {"type": "text", "fontSize": 21, "fontStyle": "italic"}, "encoding": {"x": {"field": "x", "type": "quantitative"}, "y": {"field": "y", "type": "quantitative"}, "text": {"field": "name"}}},
 {"data": {"values": [{}]}, "mark": {"type": "text", "fontSize": 24, "fontWeight": "bold", "align": "left", "baseline": "alphabetic"}, "encoding": {"x": {"datum": -2.84, "type": "quantitative"}, "y": {"datum": 2.54, "type": "quantitative"}, "text": {"value": "a"}}},
 {"data": {"values": [{}]}, "mark": {"type": "text", "font": "Liberation Serif", "fontSize": 37, "fontWeight": "bold", "color": "#fe2b1c", "align": "left", "baseline": "alphabetic"}, "encoding": {"x": {"datum": -2.5, "type": "quantitative"}, "y": {"datum": -2.72, "type": "quantitative"}, "text": {"value": "1949-1994"}}}
]
},
{
"width": 364, "height": 390,
"layer": [
 {"data": {"name": "b_lines"}, "mark": "line",
  "encoding": {
   "x": {"field": "x", "type": "quantitative", "scale": {"domain": [-3, 2.87], "nice": false, "zero": false}, "axis": {"values": [-3, -2, -1, 0, 1, 2], "labels": false, "title": null}},
   "y": {"field": "y", "type": "quantitative", "scale": {"domain": [-3, 3], "nice": false, "zero": false}, "axis": {"values": [-3, -2, -1, 0, 1, 2, 3], "labels": false, "title": null}},
   "detail": {"field": "contour", "type": "nominal"},
   "order": {"value": null}}},
 {"data": {"values": [{}]}, "mark": {"type": "rule", "color": "black", "strokeWidth": 1.5}, "encoding": {"y": {"datum": 3, "type": "quantitative"}}},
 {"data": {"name": "b_tags"}, "mark": {"type": "text", "fill": "white", "stroke": "white", "strokeWidth": 6}, "encoding": {"x": {"field": "x", "type": "quantitative"}, "y": {"field": "y", "type": "quantitative"}, "text": {"field": "text"}}},
 {"data": {"name": "b_tags"}, "mark": {"type": "text"}, "encoding": {"x": {"field": "x", "type": "quantitative"}, "y": {"field": "y", "type": "quantitative"}, "text": {"field": "text"}}},
 {"data": {"values": [{}]}, "mark": {"type": "text", "fontSize": 24, "fontWeight": "bold", "align": "left", "baseline": "alphabetic"}, "encoding": {"x": {"datum": -2.76, "type": "quantitative"}, "y": {"datum": 2.52, "type": "quantitative"}, "text": {"value": "b"}}},
 {"data": {"values": [{}]}, "mark": {"type": "text", "font": "Liberation Serif", "fontSize": 37, "fontWeight": "bold", "color": "#fe2b1c", "align": "left", "baseline": "alphabetic"}, "encoding": {"x": {"datum": -2.55, "type": "quantitative"}, "y": {"datum": -2.71, "type": "quantitative"}, "text": {"value": "ENSO removed"}}}
]
},
{
"width": 371, "height": 385,
"layer": [
 {"data": {"name": "c_lines"}, "mark": "line",
  "encoding": {
   "x": {"field": "x", "type": "quantitative", "scale": {"domain": [-3, 3], "nice": false, "zero": false}, "axis": {"values": [-3, -2, -1, 0, 1, 2, 3], "title": null, "labelExpr": "datum.value < 0 ? '-' + (-datum.value) : '' + datum.value"}},
   "y": {"field": "y", "type": "quantitative", "scale": {"domain": [-3, 3], "nice": false, "zero": false}, "axis": {"values": [-3, -2, -1, 0, 1, 2, 3], "title": null, "labelExpr": "datum.value < 0 ? '-' + (-datum.value) : '' + datum.value"}},
   "detail": {"field": "contour", "type": "nominal"},
   "order": {"value": null}}},
 {"data": {"values": [{}]}, "mark": {"type": "rule", "color": "black", "strokeWidth": 1.5}, "encoding": {"y": {"datum": 3, "type": "quantitative"}}},
 {"data": {"name": "c_tags"}, "mark": {"type": "text", "fill": "white", "stroke": "white", "strokeWidth": 6}, "encoding": {"x": {"field": "x", "type": "quantitative"}, "y": {"field": "y", "type": "quantitative"}, "text": {"field": "text"}}},
 {"data": {"name": "c_tags"}, "mark": {"type": "text"}, "encoding": {"x": {"field": "x", "type": "quantitative"}, "y": {"field": "y", "type": "quantitative"}, "text": {"field": "text"}}},
 {"data": {"values": [{}]}, "mark": {"type": "text", "fontSize": 24, "fontWeight": "bold", "align": "left", "baseline": "alphabetic"}, "encoding": {"x": {"datum": -2.84, "type": "quantitative"}, "y": {"datum": 2.52, "type": "quantitative"}, "text": {"value": "c"}}},
 {"data": {"values": [{}]}, "mark": {"type": "text", "font": "Liberation Serif", "fontSize": 37, "fontWeight": "bold", "color": "#fe2b1c", "align": "left", "baseline": "alphabetic"}, "encoding": {"x": {"datum": -2.71, "type": "quantitative"}, "y": {"datum": -2.77, "type": "quantitative"}, "text": {"value": "1949-1971"}}}
]
},
{
"width": 364, "height": 385,
"layer": [
 {"data": {"name": "d_lines"}, "mark": "line",
  "encoding": {
   "x": {"field": "x", "type": "quantitative", "scale": {"domain": [-3, 2.87], "nice": false, "zero": false}, "axis": {"values": [-3, -2, -1, 0, 1, 2], "title": null, "labelExpr": "datum.value < 0 ? '-' + (-datum.value) : '' + datum.value"}},
   "y": {"field": "y", "type": "quantitative", "scale": {"domain": [-3, 3], "nice": false, "zero": false}, "axis": {"values": [-3, -2, -1, 0, 1, 2, 3], "labels": false, "title": null}},
   "detail": {"field": "contour", "type": "nominal"},
   "order": {"value": null}}},
 {"data": {"values": [{}]}, "mark": {"type": "rule", "color": "black", "strokeWidth": 1.5}, "encoding": {"y": {"datum": 3, "type": "quantitative"}}},
 {"data": {"name": "d_tags"}, "mark": {"type": "text", "fill": "white", "stroke": "white", "strokeWidth": 6}, "encoding": {"x": {"field": "x", "type": "quantitative"}, "y": {"field": "y", "type": "quantitative"}, "text": {"field": "text"}}},
 {"data": {"name": "d_tags"}, "mark": {"type": "text"}, "encoding": {"x": {"field": "x", "type": "quantitative"}, "y": {"field": "y", "type": "quantitative"}, "text": {"field": "text"}}},
 {"data": {"values": [{}]}, "mark": {"type": "text", "fontSize": 24, "fontWeight": "bold", "align": "left", "baseline": "alphabetic"}, "encoding": {"x": {"datum": -2.77, "type": "quantitative"}, "y": {"datum": 2.52, "type": "quantitative"}, "text": {"value": "d"}}},
 {"data": {"values": [{}]}, "mark": {"type": "text", "font": "Liberation Serif", "fontSize": 37, "fontWeight": "bold", "color": "#fe2b1c", "align": "left", "baseline": "alphabetic"}, "encoding": {"x": {"datum": -2.76, "type": "quantitative"}, "y": {"datum": -2.80, "type": "quantitative"}, "text": {"value": "1972-1994"}}}
]
}
]
}
